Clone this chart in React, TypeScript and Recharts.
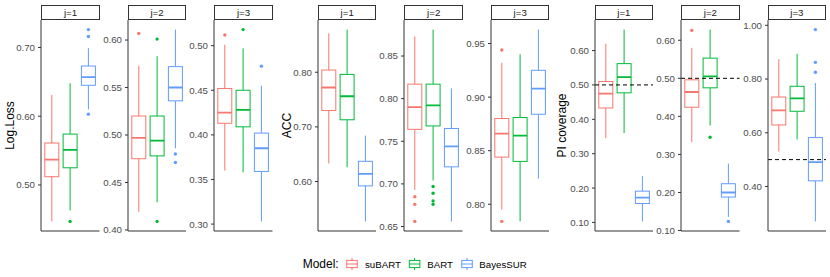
import React from 'react';
import { ComposedChart, Bar, XAxis, YAxis, ReferenceLine } from 'recharts';

const models = ['suBART', 'BART', 'BayesSUR'];
const modelColors = ['#F8766D', '#00BA38', '#619CFF'];
const stripLabels = ['j=1', 'j=2', 'j=3'];
const metricTitles = ['Log.Loss', 'ACC', 'PI coverage'];
const piTarget = 0.5;

// box stats per model: [lower whisker, Q1, median, Q3, upper whisker]
const logLossJ1 = [[0.447, 0.512, 0.537, 0.561, 0.631], [0.463, 0.525, 0.551, 0.574, 0.648], [0.61, 0.645, 0.657, 0.673, 0.699]];
const logLossJ1Out = [[], [0.447], [0.603, 0.716, 0.726]];
const logLossJ2 = [[0.419, 0.475, 0.497, 0.52, 0.573], [0.429, 0.478, 0.494, 0.52, 0.583], [0.486, 0.536, 0.55, 0.572, 0.611]];
const logLossJ2Out = [[0.607], [0.601, 0.409], [0.48, 0.471]];
const logLossJ3 = [[0.36, 0.413, 0.425, 0.452, 0.501], [0.358, 0.409, 0.428, 0.45, 0.497], [0.303, 0.359, 0.385, 0.402, 0.455]];
const logLossJ3Out = [[0.512], [0.518], [0.477]];

const accJ1 = [[0.633, 0.73, 0.772, 0.804, 0.871], [0.626, 0.713, 0.756, 0.796, 0.878], [0.527, 0.592, 0.614, 0.637, 0.684]];
const accJ1Out = [[], [], []];
const accJ2 = [[0.693, 0.764, 0.79, 0.817, 0.873], [0.704, 0.768, 0.792, 0.817, 0.881], [0.656, 0.72, 0.744, 0.765, 0.812]];
const accJ2Out = [[0.685, 0.676, 0.656], [0.697, 0.689, 0.68, 0.676], []];
const accJ3 = [[0.795, 0.844, 0.866, 0.88, 0.932], [0.784, 0.84, 0.864, 0.881, 0.94], [0.824, 0.884, 0.908, 0.925, 0.963]];
const accJ3Out = [[0.944, 0.784], [], []];

const piJ1 = [[0.345, 0.433, 0.475, 0.51, 0.62], [0.36, 0.477, 0.523, 0.562, 0.661], [0.103, 0.155, 0.172, 0.191, 0.235]];
const piJ1Out = [[], [], []];
const piJ2 = [[0.332, 0.424, 0.464, 0.496, 0.58], [0.376, 0.475, 0.505, 0.553, 0.628], [0.136, 0.188, 0.2, 0.223, 0.276]];
const piJ2Out = [[0.626], [0.345], [0.124]];
const piJ3 = [[0.53, 0.629, 0.683, 0.733, 0.874], [0.575, 0.68, 0.728, 0.773, 0.894], [0.27, 0.421, 0.491, 0.582, 0.785]];
const piJ3Out = [[], [], [0.825, 0.862, 0.984]];

const logLossTicks = [[0.5, 0.6, 0.7], [0.4, 0.45, 0.5, 0.55, 0.6], [0.3, 0.35, 0.4, 0.45, 0.5]];
const accTicks = [[0.6, 0.7, 0.8], [0.65, 0.7, 0.75, 0.8, 0.85], [0.8, 0.85, 0.9, 0.95]];
const piTicks = [[0.1, 0.2, 0.3, 0.4, 0.5, 0.6], [0.1, 0.2, 0.3, 0.4, 0.5, 0.6], [0.4, 0.6, 0.8, 1.0]];

const groups = [
  { stats: [logLossJ1, logLossJ2, logLossJ3], outs: [logLossJ1Out, logLossJ2Out, logLossJ3Out], ticks: logLossTicks, ref: false },
  { stats: [accJ1, accJ2, accJ3], outs: [accJ1Out, accJ2Out, accJ3Out], ticks: accTicks, ref: false },
  { stats: [piJ1, piJ2, piJ3], outs: [piJ1Out, piJ2Out, piJ3Out], ticks: piTicks, ref: true },
];

const FONT = '"Liberation Sans", Arial, Helvetica, sans-serif';
const GROUP_W = 830 / 3;
const PANEL_OFF = [41.3, 127.8, 214.3];
const PANEL_W = 58.5;
const PLOT_TOP = 20;
const PLOT_H = 211;
const YW = 40;
const M_TOP = 8;
const M_BOT = 8;
const AXIS_COL = '#333333';

function BoxShape(props: any) {
  const { x, y, width, height, payload } = props;
  if (!payload) return null;
  const [low, q1, med, q3, high] = payload.stats;
  const yA = Math.min(y, y + height);
  const yB = Math.max(y, y + height);
  const pix = (v: number) => yB - ((v - low) * (yB - yA)) / (high - low);
  const cx = x + width / 2;
  const c = payload.color;
  return (
    <g>
      <line x1={cx} x2={cx} y1={pix(high)} y2={pix(q3)} stroke={c} strokeWidth={1} />
      <line x1={cx} x2={cx} y1={pix(q1)} y2={pix(low)} stroke={c} strokeWidth={1} />
      <rect x={x} y={pix(q3)} width={width} height={pix(q1) - pix(q3)} fill="#fff" stroke={c} strokeWidth={1} />
      <line x1={x} x2={x + width} y1={pix(med)} y2={pix(med)} stroke={c} strokeWidth={1.8} />
      {payload.outliers.map((o: number, i: number) => (
        <circle key={i} cx={cx} cy={pix(o)} r={1.7} fill={c} />
      ))}
    </g>
  );
}

function Panel({ g, j }: { g: number; j: number }) {
  const grp = groups[g];
  const stats = grp.stats[j];
  const outs = grp.outs[j];
  const data = models.map((m, i) => ({
    model: m,
    range: [stats[i][0], stats[i][4]],
    stats: stats[i],
    outliers: outs[i],
    color: modelColors[i],
  }));
  const all = stats.flat().concat(outs.flat());
  const mn = Math.min(...all);
  const mx = Math.max(...all);
  const pad = (mx - mn) * 0.05;
  const left = g * GROUP_W + PANEL_OFF[j];
  return (
    <>
      <div
        style={{
          position: 'absolute',
          left: left,
          top: 5,
          width: PANEL_W,
          height: 15,
          boxSizing: 'border-box',
          border: `1px solid ${AXIS_COL}`,
          background: '#fff',
          fontFamily: FONT,
          fontSize: 9.7,
          color: '#1A1A1A',
          textAlign: 'center',
          lineHeight: '13px',
        }}
      >
        {stripLabels[j]}
      </div>
      <div style={{ position: 'absolute', left: left - YW, top: PLOT_TOP - M_TOP }}>
        <ComposedChart
          width={YW + PANEL_W}
          height={PLOT_H + 1 + M_TOP + M_BOT}
          data={data}
          margin={{ top: M_TOP, right: 0, bottom: M_BOT, left: 0 }}
        >
          <XAxis
            dataKey="model"
            type="category"
            tick={false}
            tickLine={false}
            axisLine={{ stroke: AXIS_COL }}
            height={1}
            padding={{ left: 1.8, right: 1.8 }}
          />
          <YAxis
            type="number"
            domain={[mn - pad, mx + pad]}
            ticks={grp.ticks[j]}
            interval={0}
            allowDataOverflow
            width={YW}
            tickSize={3}
            tickMargin={3}
            tickLine={{ stroke: AXIS_COL }}
            axisLine={{ stroke: AXIS_COL }}
            tick={{ fontSize: 9.7, fill: '#4D4D4D', fontFamily: FONT }}
            tickFormatter={(v: number) => v.toFixed(2)}
          />
          <Bar dataKey="range" barSize={14} shape={BoxShape} isAnimationActive={false} />
          {grp.ref && (
            <ReferenceLine y={piTarget} stroke="#000" strokeDasharray="4 3" strokeWidth={1} />
          )}
        </ComposedChart>
      </div>
    </>
  );
}

function LegendKey({ x, color }: { x: number; color: string }) {
  const cy = 264;
  return (
    <g>
      <line x1={x + 5.3} x2={x + 5.3} y1={cy - 6} y2={cy - 3.6} stroke={color} strokeWidth={1} />
      <line x1={x + 5.3} x2={x + 5.3} y1={cy + 3.6} y2={cy + 6} stroke={color} strokeWidth={1} />
      <rect x={x} y={cy - 3.6} width={10.6} height={7.2} fill="#fff" stroke={color} strokeWidth={1} />
      <line x1={x} x2={x + 10.6} y1={cy} y2={cy} stroke={color} strokeWidth={1} />
    </g>
  );
}

export default function App() {
  const keyX = [346.7, 409.3, 461.7];
  const textX = [365, 427.3, 479.3];
  const titleX = [10, 10.5, 9];
  return (
    <div style={{ position: 'absolute', left: 0, top: 0, width: 830, height: 277, background: '#fff', overflow: 'hidden' }}>
      <svg width={830} height={277} style={{ position: 'absolute', left: 0, top: 0 }}>
        {metricTitles.map((t, g) => {
          const x = g * GROUP_W + titleX[g];
          return (
            <text
              key={t}
              x={x}
              y={125.5}
              transform={`rotate(-90 ${x} 125.5)`}
              textAnchor="middle"
              dominantBaseline="central"
              fontSize={12}
              fontFamily={FONT}
              fill="#000"
            >
              {t}
            </text>
          );
        })}
        <text x={302.7} y={268.3} fontSize={12} fontFamily={FONT} fill="#000">
          Model:
        </text>
        {models.map((m, i) => (
          <g key={m}>
            <LegendKey x={keyX[i]} color={modelColors[i]} />
            <text x={textX[i]} y={267.6} fontSize={9.7} fontFamily={FONT} fill="#000">
              {m}
            </text>
          </g>
        ))}
      </svg>
      {[0, 1, 2].map((g) => [0, 1, 2].map((j) => <Panel key={`${g}-${j}`} g={g} j={j} />))}
    </div>
  );
}
